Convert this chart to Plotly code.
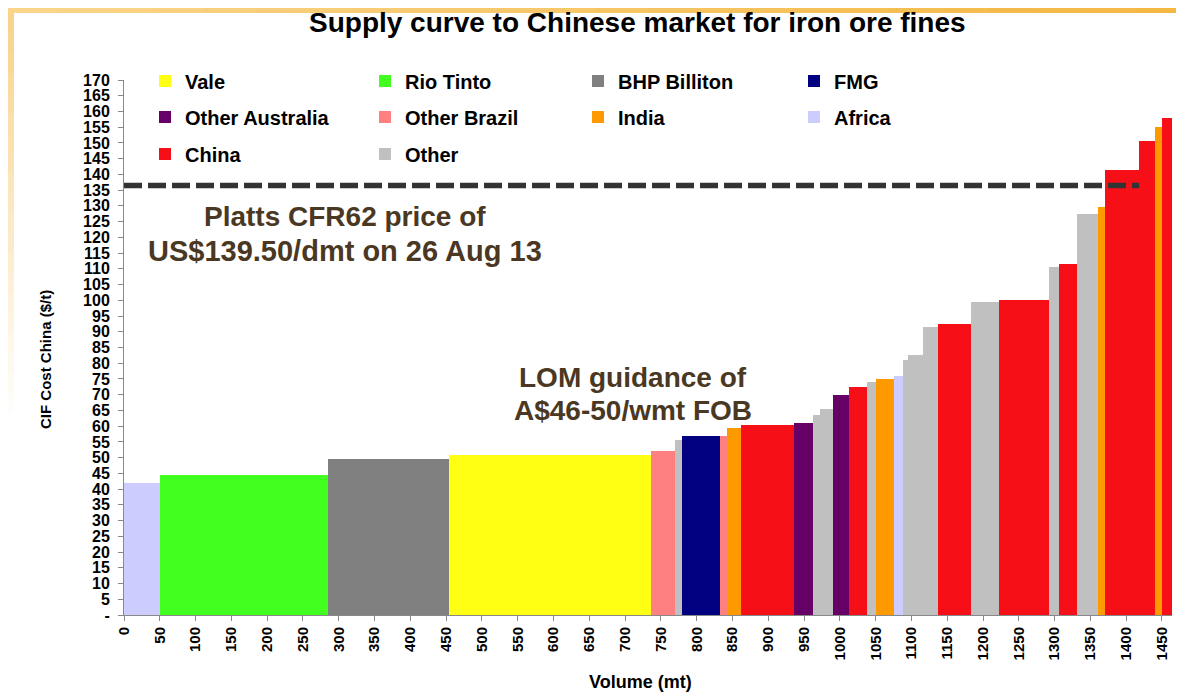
import plotly.graph_objects as go

# supply curve data: one entry per mine/block, in order of cost
producers = ['Africa', 'Rio Tinto', 'BHP Billiton', 'Vale', 'Other Brazil', 'Other',
             'FMG', 'Other Brazil', 'India', 'China', 'Other Australia', 'Other',
             'Other', 'Other Australia', 'China', 'Other', 'India', 'Africa',
             'Other', 'Other', 'Other', 'China', 'Other', 'China', 'Other',
             'China', 'Other', 'India', 'China', 'China', 'India', 'China']
volumes = [50, 235, 169, 282, 34, 9, 53, 10, 20, 74, 26, 10, 18, 23, 25, 12, 25,
           13, 7, 21, 21, 46, 39, 70, 14, 25, 29, 10, 48, 22, 10, 14]
costs = [42, 44.5, 49.5, 51, 52, 55.5, 57, 57, 59.5, 60.5, 61, 63.5, 65.5, 70,
         72.5, 74, 75, 76, 81, 82.5, 91.5, 92.5, 99.5, 100, 110.5, 111.5, 127.5,
         129.5, 141.5, 150.5, 155, 158]

legend_rows = [['Vale', 'Rio Tinto', 'BHP Billiton', 'FMG'],
               ['Other Australia', 'Other Brazil', 'India', 'Africa'],
               ['China', 'Other']]
colors = {'Vale': '#FFFF14', 'Rio Tinto': '#41FF1F', 'BHP Billiton': '#808080',
          'FMG': '#000080', 'Other Australia': '#660066', 'Other Brazil': '#FF8080',
          'India': '#FF9900', 'Africa': '#CCCCFF', 'China': '#F70F17',
          'Other': '#C0C0C0'}

platts_price = 136.5
platts_end = 1418

x_ticks = list(range(0, 1451, 50))
y_ticks = list(range(0, 171, 5))
y_ticktext = ['-' if v == 0 else str(v) for v in y_ticks]

# page geometry (the page body adds an 8px margin round the figure)
OFF = 8
W, H = 1184 - OFF, 693 - OFF
L, R, T, B = 124 - OFF, 12, 80 - OFF, 78
pw, ph = W - L - R, H - T - B


def px_x(px):
    # page pixel -> paper x
    return (px - OFF - L) / pw


def px_y(py):
    # page pixel -> paper y
    return (H - B - (py - OFF)) / ph


starts = []
pos = 0
for v in volumes:
    starts.append(pos)
    pos += v

fig = go.Figure()
col_x = [145, 365, 578, 794]
row_y = [81, 117, 154]
leg_font = dict(family='Liberation Sans, Arial', size=20, color='black', weight='bold')
legend_cfg = {}
k = 0
for r, row in enumerate(legend_rows):
    for c, name in enumerate(row):
        k += 1
        lname = 'legend' if k == 1 else f'legend{k}'
        legend_cfg[lname] = dict(
            orientation='v', x=px_x(col_x[c]), y=px_y(row_y[r]),
            xanchor='left', yanchor='middle', font=leg_font,
            bgcolor='rgba(0,0,0,0)', itemwidth=30)
        idx = [i for i, p in enumerate(producers) if p == name]
        fig.add_trace(go.Bar(
            x=[starts[i] + volumes[i] / 2 for i in idx],
            y=[costs[i] for i in idx],
            width=[volumes[i] for i in idx],
            name=name, legend=lname,
            marker=dict(color=colors[name], line=dict(width=0)),
        ))

fig.add_trace(go.Scatter(
    x=[0, platts_end], y=[platts_price, platts_price], mode='lines',
    line=dict(color='#333333', width=5.5, dash='18px,6px'),
    showlegend=False, hoverinfo='skip'))

text_col = '#4A3823'
annotations = [
    dict(text='Platts CFR62 price of', x=309, y=px_y(216), size=28),
    dict(text='US$139.50/dmt on 26 Aug 13', x=309, y=px_y(251), size=29),
    dict(text='LOM guidance of', x=711, y=px_y(377), size=28),
    dict(text='A$46-50/wmt FOB', x=711, y=px_y(410), size=28),
]
for a in annotations:
    size = a.pop('size')
    a.update(xref='x', yref='paper', showarrow=False, xanchor='center', yanchor='middle',
             font=dict(family='Liberation Sans, Arial', size=size, color=text_col,
                       weight='bold'))

annotations.append(dict(
    text='Supply curve to Chinese market for iron ore fines', xref='paper', yref='paper',
    x=px_x(637), y=px_y(22), showarrow=False, xanchor='center', yanchor='middle',
    font=dict(family='Liberation Sans, Arial', size=28, color='black', weight='bold')))
annotations.append(dict(
    text='CIF Cost China ($/t)', xref='paper', yref='paper', x=px_x(45), y=px_y(360),
    textangle=-90, showarrow=False, xanchor='center', yanchor='middle',
    font=dict(family='Liberation Sans, Arial', size=15, color='black', weight='bold')))
annotations.append(dict(
    text='Volume (mt)', xref='paper', yref='paper', x=px_x(640), y=px_y(682),
    showarrow=False, xanchor='center', yanchor='middle',
    font=dict(family='Liberation Sans, Arial', size=18, color='black', weight='bold')))

# orange slide border, faked gradient with strips
shapes = []
n = 24
for i in range(n):
    t = i / (n - 1)
    rr = int(250 + (244 - 250) * t)
    gg = int(213 + (184 - 213) * t)
    bb = int(138 + (67 - 138) * t)
    shapes.append(dict(type='rect', xref='paper', yref='paper', layer='above',
                       x0=px_x(OFF + W * i / n), x1=px_x(OFF + W * (i + 1) / n),
                       y0=px_y(OFF + 5), y1=px_y(OFF),
                       fillcolor=f'rgb({rr},{gg},{bb})', line=dict(width=0)))
m = 20
for i in range(m):
    op = 1 - i / m
    shapes.append(dict(type='rect', xref='paper', yref='paper', layer='above',
                       x0=px_x(OFF), x1=px_x(OFF + 6),
                       y0=px_y(OFF + 5 + 400 * (i + 1) / m), y1=px_y(OFF + 5 + 400 * i / m),
                       fillcolor='#F9D38C', opacity=op, line=dict(width=0)))

tick_font = dict(family='Liberation Sans, Arial', size=16, color='black', weight='bold')
fig.update_layout(
    width=W, height=H,
    margin=dict(l=L, r=R, t=T, b=B),
    paper_bgcolor='white', plot_bgcolor='white',
    barmode='overlay', bargap=0,
    xaxis=dict(range=[0, 1464], tickvals=x_ticks, tickangle=-90,
               tickfont=dict(tick_font, size=15), showgrid=False, zeroline=False,
               showline=True, linecolor='#888888', linewidth=1,
               ticks='outside', ticklen=5, tickcolor='#888888'),
    yaxis=dict(range=[0, 170], tickvals=y_ticks, ticktext=y_ticktext,
               tickfont=tick_font, showgrid=False, zeroline=False,
               showline=True, linecolor='#888888', linewidth=1,
               ticks='outside', ticklen=5, tickcolor='#888888',
               ticklabelstandoff=5),
    annotations=annotations,
    shapes=shapes,
    **legend_cfg,
)

fig.write_html('out.html')
